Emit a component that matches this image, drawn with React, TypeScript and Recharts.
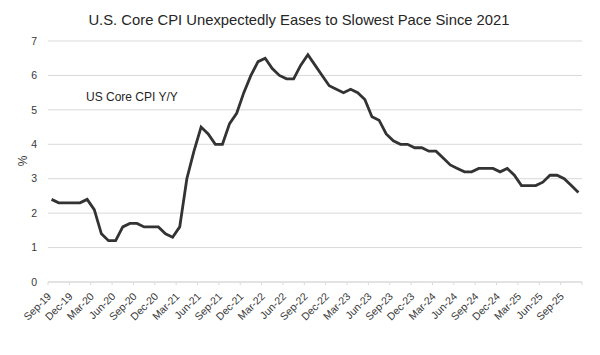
import React from 'react';
import { LineChart, Line, XAxis, YAxis, CartesianGrid } from 'recharts';

// US core CPI, year over year (%), monthly Sep-19 .. Nov-25
const coreCpi2019 = [2.4, 2.3, 2.3, 2.3];
const coreCpi2020 = [2.3, 2.4, 2.1, 1.4, 1.2, 1.2, 1.6, 1.7, 1.7, 1.6, 1.6, 1.6];
const coreCpi2021 = [1.4, 1.3, 1.6, 3.0, 3.8, 4.5, 4.3, 4.0, 4.0, 4.6, 4.9, 5.5];
const coreCpi2022 = [6.0, 6.4, 6.5, 6.2, 6.0, 5.9, 5.9, 6.3, 6.6, 6.3, 6.0, 5.7];
const coreCpi2023 = [5.6, 5.5, 5.6, 5.5, 5.3, 4.8, 4.7, 4.3, 4.1, 4.0, 4.0, 3.9];
const coreCpi2024 = [3.9, 3.8, 3.8, 3.6, 3.4, 3.3, 3.2, 3.2, 3.3, 3.3, 3.3, 3.2];
const coreCpi2025 = [3.3, 3.1, 2.8, 2.8, 2.8, 2.9, 3.1, 3.1, 3.0, 2.8, 2.6];

const coreCpi = [
  ...coreCpi2019,
  ...coreCpi2020,
  ...coreCpi2021,
  ...coreCpi2022,
  ...coreCpi2023,
  ...coreCpi2024,
  ...coreCpi2025,
];

const tickLabels = [
  'Sep-19', 'Dec-19', 'Mar-20', 'Jun-20', 'Sep-20', 'Dec-20', 'Mar-21', 'Jun-21', 'Sep-21',
  'Dec-21', 'Mar-22', 'Jun-22', 'Sep-22', 'Dec-22', 'Mar-23', 'Jun-23', 'Sep-23', 'Dec-23',
  'Mar-24', 'Jun-24', 'Sep-24', 'Dec-24', 'Mar-25', 'Jun-25', 'Sep-25',
];
const yTicks = [0, 1, 2, 3, 4, 5, 6, 7];
const titleText = 'U.S. Core CPI Unexpectedly Eases to Slowest Pace Since 2021';
const seriesLabel = 'US Core CPI Y/Y';
const yUnit = '%';

const data = coreCpi.map((v, i) => ({ i, v }));
const xTicks = tickLabels.map((_, k) => k * 3 - 0.5).concat([coreCpi.length - 0.5]);

const FONT = '"Liberation Sans", Arial, Helvetica, sans-serif';
const TEXT = '#383838';

const XTick = (props: any) => {
  const { x, y, payload } = props;
  const k = Math.round((payload.value + 0.5) / 3);
  const label = tickLabels[k];
  if (!label) return null;
  const ax = x + 4;
  const ay = y + 12;
  return (
    <text
      x={ax}
      y={ay}
      textAnchor="end"
      fontSize={10.5}
      fill={TEXT}
      fontFamily={FONT}
      transform={`rotate(-45, ${ax}, ${ay})`}
    >
      {label}
    </text>
  );
};

export default function App() {
  return (
    <div
      style={{
        position: 'absolute',
        left: 0,
        top: 0,
        width: 600,
        height: 355,
        background: '#fff',
        fontFamily: FONT,
      }}
    >
      <LineChart
        width={600}
        height={355}
        data={data}
        margin={{ top: 41, right: 18, bottom: 0, left: 0 }}
      >
        <CartesianGrid horizontal vertical={false} stroke="#d9d9d9" strokeWidth={1} />
        <XAxis
          type="number"
          dataKey="i"
          domain={[-0.5, coreCpi.length - 0.5]}
          ticks={xTicks}
          interval={0}
          allowDataOverflow
          height={73}
          tickSize={3}
          tickMargin={0}
          stroke="#d9d9d9"
          tick={<XTick />}
        />
        <YAxis
          type="number"
          domain={[0, 7]}
          ticks={yTicks}
          interval={0}
          axisLine={false}
          tickLine={false}
          width={48}
          tickSize={6}
          tickMargin={5}
          tick={{ fontSize: 10.5, fill: TEXT, fontFamily: FONT }}
        />
        <Line
          type="linear"
          dataKey="v"
          stroke="#333333"
          strokeWidth={2.8}
          dot={false}
          isAnimationActive={false}
        />
      </LineChart>
      <svg
        width={600}
        height={355}
        style={{ position: 'absolute', left: 0, top: 0, pointerEvents: 'none' }}
      >
        <text x={299} y={25} textAnchor="middle" fontSize={14.8} fill="#262626" fontFamily={FONT}>
          {titleText}
        </text>
        <text x={86} y={100.5} fontSize={12} fill="#262626" fontFamily={FONT}>
          {seriesLabel}
        </text>
        <text
          x={22.5}
          y={161}
          textAnchor="middle"
          dominantBaseline="central"
          fontSize={12}
          fill={TEXT}
          fontFamily={FONT}
          transform="rotate(-90, 22.5, 161)"
        >
          {yUnit}
        </text>
      </svg>
    </div>
  );
}
